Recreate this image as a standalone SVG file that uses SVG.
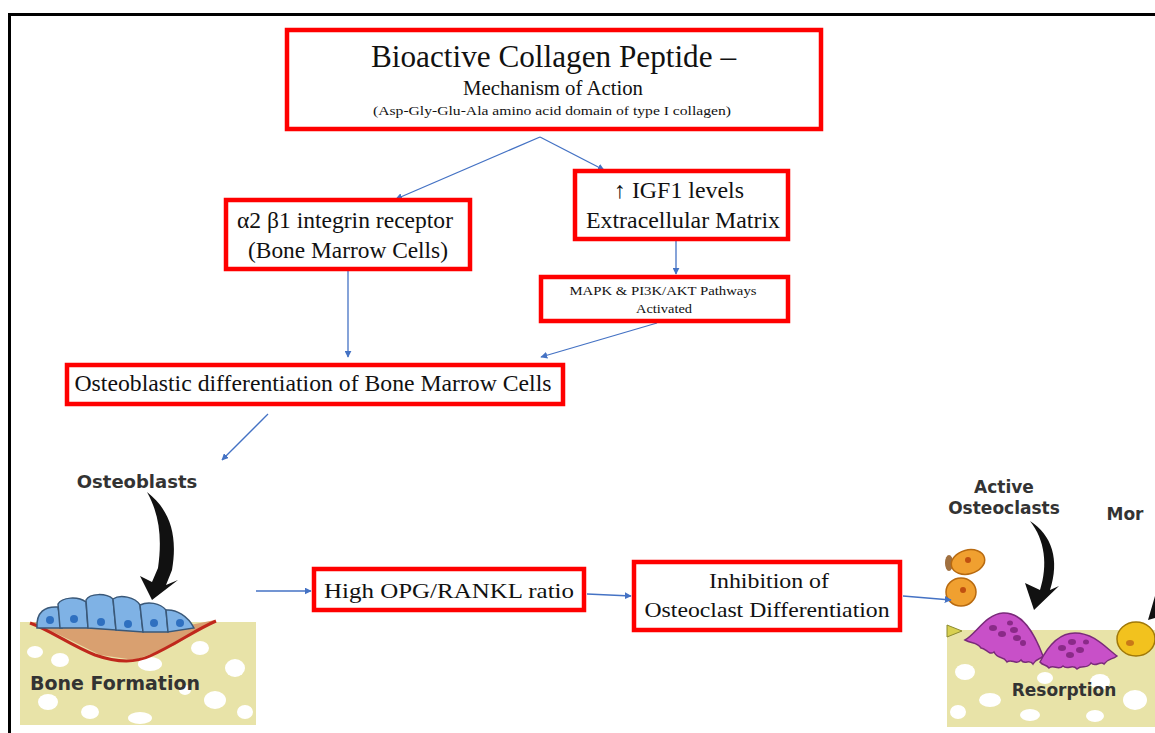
<svg xmlns="http://www.w3.org/2000/svg" width="1155" height="733" viewBox="0 0 1155 733">
<defs>
<style>
.box{fill:#fff;stroke:#ff0000;stroke-width:4.5}
.t{font-family:"Liberation Serif","Times New Roman",serif;fill:#111;text-anchor:middle}
.c{stroke:#4472c4;stroke-width:1.3;fill:none}
.lbl{font-family:"DejaVu Sans","Liberation Sans",sans-serif;font-weight:bold;fill:#333;text-anchor:middle}
.bone{fill:#e8e3a8}
.hole{fill:#fff}
</style>
<marker id="ah" viewBox="0 0 10 10" refX="9" refY="5" markerWidth="7" markerHeight="7" orient="auto" markerUnits="userSpaceOnUse">
<path d="M0,0 L10,5 L0,10 z" fill="#4472c4"/>
</marker>
</defs>
<rect width="1155" height="733" fill="#fff"/>
<path d="M9.5,733 V14.5 H1155" fill="none" stroke="#000" stroke-width="3"/>

<!-- Bone formation illustration -->
<g id="bone-formation">
<text class="lbl" x="137" y="488" font-size="18">Osteoblasts</text>
<path d="M147,492 C170,510 178,535 172,570 L166,585 L178,580 L152,600 L140,576 L152,582 L158,568 C162,540 160,515 147,492 z" fill="#111"/>
<rect class="bone" x="20" y="622" width="236" height="103"/>
<ellipse class="hole" cx="35" cy="652" rx="8" ry="6"/>
<ellipse class="hole" cx="60" cy="660" rx="9" ry="7"/>
<ellipse class="hole" cx="48" cy="702" rx="10" ry="8"/>
<ellipse class="hole" cx="90" cy="712" rx="9" ry="7"/>
<ellipse class="hole" cx="150" cy="664" rx="12" ry="7"/>
<ellipse class="hole" cx="200" cy="648" rx="9" ry="7"/>
<ellipse class="hole" cx="235" cy="668" rx="10" ry="9"/>
<ellipse class="hole" cx="215" cy="700" rx="11" ry="9"/>
<ellipse class="hole" cx="140" cy="718" rx="12" ry="6"/>
<ellipse class="hole" cx="245" cy="712" rx="8" ry="7"/>
<ellipse class="hole" cx="185" cy="690" rx="6" ry="5"/>
<path d="M32,622 L70,640 L100,655 L135,660 L175,645 L215,620 L190,625 L140,627 L80,627 z" fill="#d9a070"/>
<path d="M30,623 C50,630 70,645 95,655 C115,662 135,663 150,656 C175,645 195,630 216,621" fill="none" stroke="#c0281c" stroke-width="3"/>
<g fill="#7fb2e5" stroke="#3a5878" stroke-width="1.5">
<path d="M37,628 C36,612 45,606 58,607 L62,628 z"/>
<path d="M60,628 L58,604 C62,597 78,596 86,602 L88,628 z"/>
<path d="M88,628 L86,600 C90,593 106,593 113,599 L116,630 z"/>
<path d="M116,630 L113,599 C120,594 135,597 140,605 L143,632 z"/>
<path d="M143,632 L140,605 C148,601 160,603 166,610 L168,632 z"/>
<path d="M168,632 L166,610 C176,609 188,616 194,628 z"/>
</g>
<g fill="#2f70c0">
<circle cx="50" cy="620" r="4"/>
<circle cx="74" cy="619" r="4"/>
<circle cx="101" cy="622" r="4"/>
<circle cx="128" cy="624" r="4"/>
<circle cx="154" cy="623" r="4"/>
<circle cx="180" cy="623" r="4"/>
</g>
<text class="lbl" x="115" y="690" font-size="19">Bone Formation</text>
</g>

<!-- Resorption illustration -->
<g id="resorption">
<text class="lbl" x="1004" y="493" font-size="17">Active</text>
<text class="lbl" x="1004" y="514" font-size="17">Osteoclasts</text>
<text class="lbl" x="1125" y="520" font-size="17" text-anchor="start">Mor</text>
<path d="M1030,521 C1052,535 1060,560 1050,590 L1059,586 L1034,610 L1025,583 L1040,590 C1048,565 1045,540 1030,521 z" fill="#111"/>
<path d="M1155,596 L1148,620 L1155,618 z" fill="#111"/>
<rect class="bone" x="947" y="630" width="208" height="97"/>
<ellipse class="hole" cx="965" cy="672" rx="10" ry="8"/>
<ellipse class="hole" cx="990" cy="700" rx="11" ry="7"/>
<ellipse class="hole" cx="958" cy="712" rx="8" ry="7"/>
<ellipse class="hole" cx="1045" cy="678" rx="8" ry="6"/>
<ellipse class="hole" cx="1100" cy="682" rx="10" ry="8"/>
<ellipse class="hole" cx="1135" cy="700" rx="12" ry="10"/>
<ellipse class="hole" cx="1030" cy="715" rx="10" ry="6"/>
<ellipse class="hole" cx="1095" cy="716" rx="9" ry="6"/>
<path d="M947,625 L962,631 L947,637 z" fill="#d8d050" stroke="#8a8a30" stroke-width="1"/>
<ellipse cx="949" cy="563" rx="4" ry="8" fill="#a07040"/>
<ellipse cx="968" cy="562" rx="17" ry="12" fill="#f0a030" stroke="#b86a10" stroke-width="1.5" transform="rotate(-15 968 562)"/>
<circle cx="968" cy="560" r="3" fill="#c05010"/>
<ellipse cx="961" cy="592" rx="15" ry="14" fill="#f0a030" stroke="#b86a10" stroke-width="1.5"/>
<circle cx="963" cy="590" r="3" fill="#c05010"/>
<path d="M965,640 C976,634 986,614 1003,613 C1022,612 1034,632 1043,656 C1040,660 1036,658 1033,664 C1029,658 1025,666 1021,660 C1016,666 1012,658 1007,662 C1003,655 998,660 994,652 C989,656 986,648 981,648 C977,642 972,644 965,640 z" fill="#c850c8" stroke="#7a2a7a" stroke-width="1.5"/>
<path d="M1040,662 C1048,646 1060,633 1075,633 C1094,633 1106,648 1117,656 C1112,660 1108,658 1104,664 C1100,660 1096,668 1091,663 C1087,670 1082,664 1077,669 C1072,663 1068,671 1063,666 C1058,671 1054,664 1049,668 C1046,664 1043,666 1040,662 z" fill="#c850c8" stroke="#7a2a7a" stroke-width="1.5"/>
<g fill="#8a2a88">
<ellipse cx="993" cy="628" rx="4" ry="3"/>
<ellipse cx="1002" cy="634" rx="4" ry="3"/>
<ellipse cx="1014" cy="630" rx="4" ry="3"/>
<ellipse cx="1017" cy="638" rx="4" ry="3"/>
<ellipse cx="1023" cy="643" rx="3" ry="3"/>
<ellipse cx="1010" cy="623" rx="3" ry="2.5"/>
<ellipse cx="1062" cy="648" rx="4" ry="3"/>
<ellipse cx="1072" cy="642" rx="4" ry="3"/>
<ellipse cx="1080" cy="650" rx="4" ry="3"/>
<ellipse cx="1070" cy="655" rx="4" ry="3"/>
<ellipse cx="1086" cy="642" rx="3" ry="2.5"/>
</g>
<ellipse cx="1136" cy="639" rx="19" ry="17" fill="#f2c21e" stroke="#a07808" stroke-width="1.5"/>
<ellipse cx="1130" cy="643" rx="4" ry="3" fill="#c87818"/>
<text class="lbl" x="1064" y="696" font-size="17">Resorption</text>
</g>

<!-- Connectors -->
<g id="connectors">
<path class="c" d="M540,137 L396,199" marker-end="url(#ah)"/>
<path class="c" d="M540,137 L604,170" marker-end="url(#ah)"/>
<path class="c" d="M676,240 L676,274" marker-end="url(#ah)"/>
<path class="c" d="M348,271 L348,357" marker-end="url(#ah)"/>
<path class="c" d="M657,323 L541,357" marker-end="url(#ah)"/>
<path class="c" d="M268,414 L222,460" marker-end="url(#ah)"/>
<path class="c" d="M256,591 L311,591" marker-end="url(#ah)"/>
<path class="c" d="M587,594 L631,596" marker-end="url(#ah)"/>
<path class="c" d="M903,596 L951,600" marker-end="url(#ah)"/>
</g>

<!-- Nodes -->
<g id="n-title">
<rect class="box" x="287" y="30" width="534" height="99"/>
<text class="t" x="553.5" y="67" font-size="31" textLength="365" lengthAdjust="spacingAndGlyphs">Bioactive Collagen Peptide –</text>
<text class="t" x="553" y="95" font-size="20" textLength="180" lengthAdjust="spacingAndGlyphs">Mechanism  of Action</text>
<text class="t" x="552" y="115" font-size="13.5" textLength="358" lengthAdjust="spacingAndGlyphs">(Asp-Gly-Glu-Ala  amino  acid domain  of type I collagen)</text>
</g>
<g id="n-igf1">
<rect class="box" x="575" y="171" width="213" height="68"/>
<text class="t" x="679" y="198" font-size="23" textLength="130" lengthAdjust="spacingAndGlyphs">↑ IGF1 levels</text>
<text class="t" x="683" y="228" font-size="23" textLength="194" lengthAdjust="spacingAndGlyphs">Extracellular Matrix</text>
</g>
<g id="n-integrin">
<rect class="box" x="226" y="200" width="244" height="69"/>
<text class="t" x="345" y="228" font-size="23" textLength="216" lengthAdjust="spacingAndGlyphs">α2 β1 integrin receptor</text>
<text class="t" x="348" y="258" font-size="23" textLength="200" lengthAdjust="spacingAndGlyphs">(Bone Marrow Cells)</text>
</g>
<g id="n-mapk">
<rect class="box" x="541" y="277" width="247" height="44"/>
<text class="t" x="663" y="295" font-size="13.5" textLength="187" lengthAdjust="spacingAndGlyphs">MAPK &amp; PI3K/AKT Pathways</text>
<text class="t" x="664" y="313" font-size="13.5" textLength="56" lengthAdjust="spacingAndGlyphs">Activated</text>
</g>
<g id="n-osteo">
<rect class="box" x="67" y="365" width="496" height="39"/>
<text class="t" x="313" y="391" font-size="23" textLength="477" lengthAdjust="spacingAndGlyphs">Osteoblastic differentiation of Bone Marrow Cells</text>
</g>
<g id="n-opg">
<rect class="box" x="314" y="569" width="270" height="41"/>
<text class="t" x="449" y="598" font-size="22" textLength="250" lengthAdjust="spacingAndGlyphs">High OPG/RANKL ratio</text>
</g>
<g id="n-inhib">
<rect class="box" x="634" y="562" width="266" height="68"/>
<text class="t" x="769" y="588" font-size="22" textLength="120" lengthAdjust="spacingAndGlyphs">Inhibition of</text>
<text class="t" x="767" y="617" font-size="22" textLength="245" lengthAdjust="spacingAndGlyphs">Osteoclast Differentiation</text>
</g>
</svg>
